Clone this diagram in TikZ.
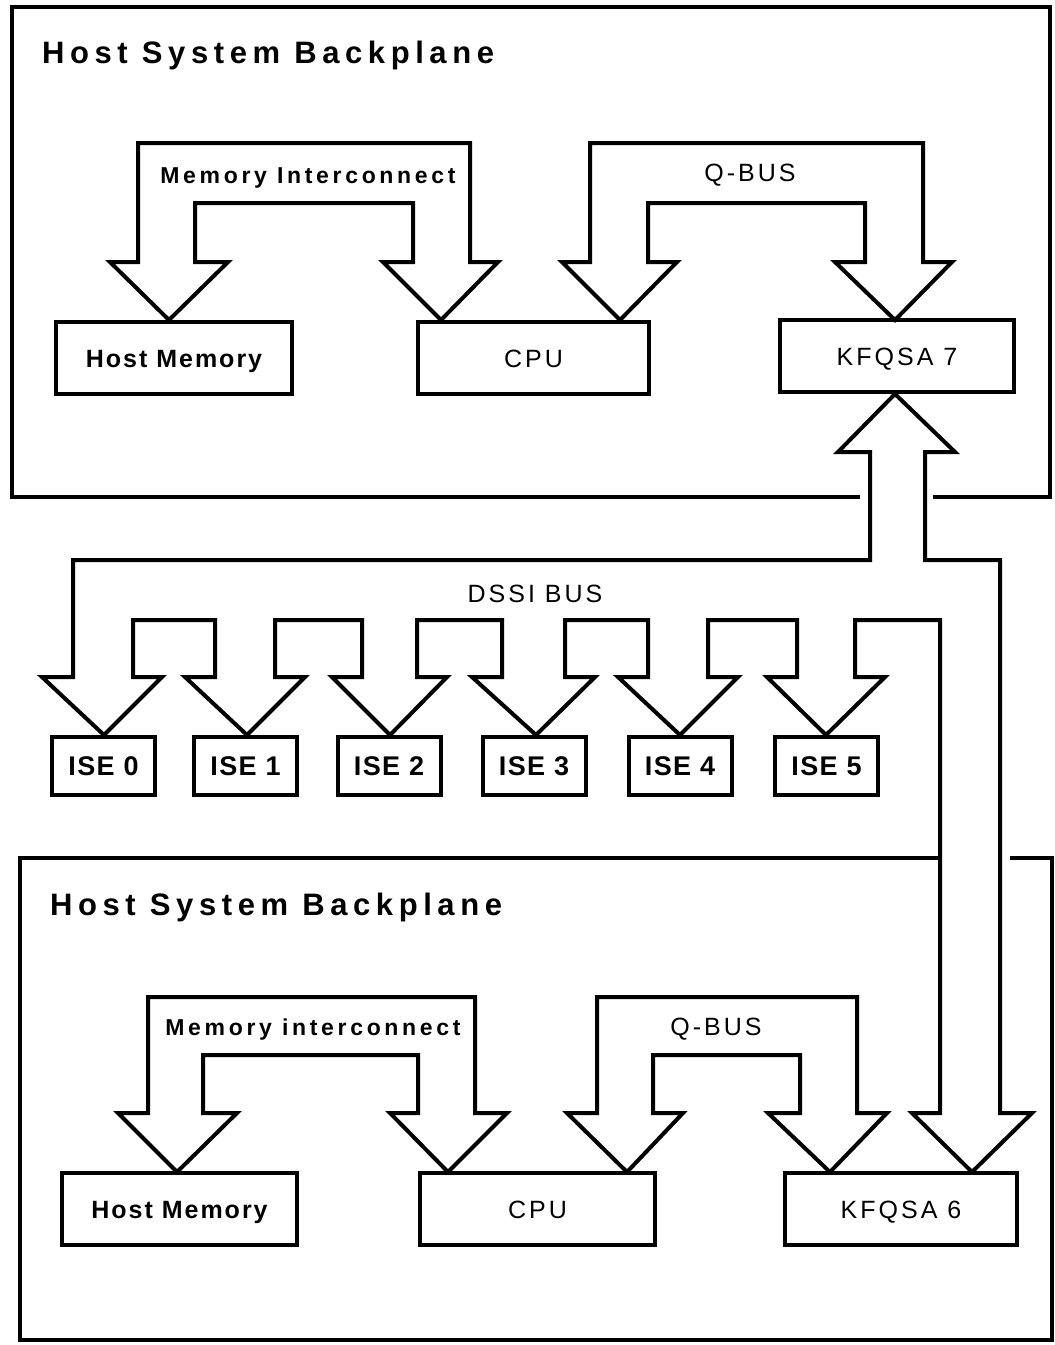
\documentclass[tikz,border=0pt]{standalone}
\usepackage{fontspec}
\newfontfamily\titlefont[LetterSpace=18]{Liberation Sans}
\newfontfamily\milfont[LetterSpace=16]{Liberation Sans}
\newfontfamily\labfont[LetterSpace=12]{Liberation Sans}
\newfontfamily\hmlfont[LetterSpace=8]{Liberation Sans}
\newfontfamily\isefont[LetterSpace=5]{Liberation Sans}
\begin{document}
\begin{tikzpicture}[x=1pt,y=-1pt,
  frame/.style={line width=4pt, line cap=butt},
  bus/.style={draw, line width=4pt, fill=white, line join=miter},
  box/.style={draw, line width=4pt, inner sep=0pt, minimum height=72pt, text depth=0pt},
  ttl/.style={inner sep=0pt, anchor=base west, font=\titlefont\bfseries\fontsize{31}{34}\selectfont},
  blab/.style={inner sep=0pt, anchor=base, font=\milfont\bfseries\fontsize{23}{26}\selectfont},
  rlab/.style={inner sep=0pt, anchor=base, font=\labfont\fontsize{25}{28}\selectfont},
  hmfont/.style={font=\hmlfont\bfseries\fontsize{25}{28}\selectfont, text height=18pt},
  rgfont/.style={font=\labfont\fontsize{25}{28}\selectfont, text height=18pt},
  isebox/.style={draw, line width=4pt, inner sep=0pt, minimum width=103pt, minimum height=58pt,
     text depth=0pt, text height=19.5pt, font=\isefont\bfseries\fontsize{27}{30}\selectfont}
]
\useasboundingbox (0,0) rectangle (1055,1345);
\fill[white] (0,0) rectangle (1055,1345);

% ---------- backplane frames ----------
\draw[frame] (860,497) -- (12,497) -- (12,7) -- (1050,7) -- (1050,497) -- (933,497);
\draw[frame] (940,858) -- (20,858) -- (20,1340) -- (1052,1340) -- (1052,858) -- (1010,858);

\node[ttl] (t7) at (42,63) {Host System Backplane};
\node[ttl] (t6) at (50,915) {Host System Backplane};

% ---------- top system ----------
\node[box, hmfont, minimum width=236pt] (hm7) at (174,358) {Host Memory};
\node[box, rgfont, minimum width=231pt] (cpu7) at (533.5,358) {CPU};
\node[box, rgfont, minimum width=234pt] (kf7) at (897,356) {KFQSA 7};

\draw[bus] (169,320) -- (110,262) -- (138,262) -- (138,143) -- (470,143) -- (470,262)
  -- (498,262) -- (441,320) -- (383,262) -- (413,262) -- (413,203) -- (195,203)
  -- (195,262) -- (228,262) -- cycle;
\node[blab] (mi7) at (308,183) {Memory Interconnect};

\draw[bus] (620,320) -- (562,262) -- (590,262) -- (590,143) -- (923,143) -- (923,262)
  -- (952,262) -- (895,320) -- (835,262) -- (865,262) -- (865,203) -- (648,203)
  -- (648,262) -- (677,262) -- cycle;
\node[rlab] (qb7) at (750,181) {Q-BUS};

% ---------- bottom system ----------
\node[box, hmfont, minimum width=235pt] (hm6) at (179.5,1209) {Host Memory};
\node[box, rgfont, minimum width=235pt] (cpu6) at (537.5,1209) {CPU};
\node[box, rgfont, minimum width=232pt] (kf6) at (901,1209) {KFQSA 6};

\draw[bus] (177,1172) -- (118,1113) -- (148,1113) -- (148,997) -- (475,997) -- (475,1113)
  -- (507,1113) -- (448,1172) -- (390,1113) -- (418,1113) -- (418,1055) -- (203,1055)
  -- (203,1113) -- (237,1113) -- cycle;
\node[blab] (mi6) at (313,1035) {Memory interconnect};

\draw[bus] (627,1172) -- (567,1113) -- (597,1113) -- (597,997) -- (857,997) -- (857,1113)
  -- (887,1113) -- (830,1172) -- (768,1113) -- (800,1113) -- (800,1055) -- (653,1055)
  -- (653,1113) -- (683,1113) -- cycle;
\node[rlab] (qb6) at (716,1035) {Q-BUS};

% ---------- ISE drives ----------
\node[isebox] (ise0) at (103.5,766) {ISE 0};
\node[isebox] (ise1) at (245.5,766) {ISE 1};
\node[isebox] (ise2) at (389,766) {ISE 2};
\node[isebox] (ise3) at (534,766) {ISE 3};
\node[isebox] (ise4) at (680,766) {ISE 4};
\node[isebox] (ise5) at (826.5,766) {ISE 5};

% ---------- DSSI bus ----------
\draw[bus] (895,394) -- (838,452) -- (870,452) -- (870,560) -- (73,560) -- (73,677)
  -- (42,677) -- (104,735) -- (162,677) -- (133,677) -- (133,620)
  -- (215,620) -- (215,677) -- (185,677) -- (247,735) -- (305,677) -- (275,677) -- (275,620)
  -- (362,620) -- (362,677) -- (332,677) -- (390,735) -- (447,677) -- (417,677) -- (417,620)
  -- (502,620) -- (502,677) -- (472,677) -- (536,735) -- (595,677) -- (565,677) -- (565,620)
  -- (648,620) -- (648,677) -- (618,677) -- (680,735) -- (738,677) -- (708,677) -- (708,620)
  -- (797,620) -- (797,677) -- (767,677) -- (826,735) -- (885,677) -- (855,677) -- (855,620)
  -- (940,620) -- (940,1113) -- (912,1113) -- (972,1172) -- (1032,1113) -- (1000,1113)
  -- (1000,560) -- (925,560) -- (925,452) -- (955,452) -- cycle;
\node[rlab] (dssi) at (535,602) {DSSI BUS};

\end{tikzpicture}
\end{document}
